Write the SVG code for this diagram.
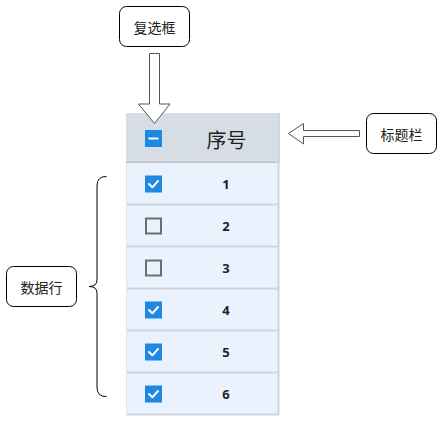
<svg xmlns="http://www.w3.org/2000/svg" width="443" height="424" viewBox="0 0 443 424">
<style>
.callout{fill:#fff;stroke:#000;stroke-width:1}
.ctext{font-family:"Noto Sans CJK SC","Noto Sans",sans-serif;font-size:14px;fill:#222;text-anchor:middle;dominant-baseline:central}
.row{fill:#eaf3fd}
.sep{stroke:#cdd6df;stroke-width:2}
.num{font-family:"Noto Sans","Open Sans",sans-serif;font-weight:bold;font-size:13px;fill:#222;text-anchor:middle;dominant-baseline:central}
.cb-on{fill:#1e88e5}
.cb-off{fill:none;stroke:#6b6f74;stroke-width:2}
.tick{fill:none;stroke:#fff;stroke-width:2;stroke-linecap:round;stroke-linejoin:round}
.arrow{fill:#fff;stroke:#555;stroke-width:1}
</style>
<defs>
<g id="on"><rect class="cb-on" x="0" y="0" width="17" height="17"/><path class="tick" d="M4 8.5 L7.3 11.8 L13 5.5"/></g>
<g id="off"><rect class="cb-off" x="1" y="1" width="15" height="15"/></g>
</defs>
<g id="table">
<rect x="126" y="113" width="154" height="50" fill="#d7dde4"/>
<line x1="126" y1="162.5" x2="280" y2="162.5" stroke="#bfc4c9" stroke-width="2"/>
<rect class="row" x="126" y="163" width="153" height="252"/>
<line class="sep" x1="126" y1="204.5" x2="279" y2="204.5"/>
<line class="sep" x1="126" y1="246.5" x2="279" y2="246.5"/>
<line class="sep" x1="126" y1="288.5" x2="279" y2="288.5"/>
<line class="sep" x1="126" y1="330.5" x2="279" y2="330.5"/>
<line class="sep" x1="126" y1="372.5" x2="279" y2="372.5"/>
<line class="sep" x1="126" y1="414.5" x2="279" y2="414.5"/>
<line class="sep" x1="278.5" y1="113" x2="278.5" y2="415"/>
<line x1="126.5" y1="163" x2="126.5" y2="415" stroke="#dfe6ee" stroke-width="1"/>
</g>
<g id="header">
<rect class="cb-on" x="145" y="130" width="17" height="17"/>
<line x1="148.5" y1="138.5" x2="158.5" y2="138.5" stroke="#fff" stroke-width="2"/>
<text x="226.5" y="139" font-family="'Noto Sans CJK SC',sans-serif" font-size="20" fill="#222" text-anchor="middle" dominant-baseline="central">序号</text>
</g>
<g id="row1"><use href="#on" x="145" y="175.5"/><text class="num" x="226" y="184">1</text></g>
<g id="row2"><use href="#off" x="145" y="217.5"/><text class="num" x="226" y="226">2</text></g>
<g id="row3"><use href="#off" x="145" y="259.5"/><text class="num" x="226" y="268">3</text></g>
<g id="row4"><use href="#on" x="145" y="301.5"/><text class="num" x="226" y="310">4</text></g>
<g id="row5"><use href="#on" x="145" y="343.5"/><text class="num" x="226" y="352">5</text></g>
<g id="row6"><use href="#on" x="145" y="385.5"/><text class="num" x="226" y="394">6</text></g>
<g id="callout-checkbox">
<rect class="callout" x="119.5" y="6.5" width="70" height="40" rx="7"/>
<text class="ctext" x="154.5" y="26.5">复选框</text>
</g>
<g id="callout-title">
<rect class="callout" x="366.5" y="113.5" width="70" height="40" rx="7"/>
<text class="ctext" x="401.5" y="133.5">标题栏</text>
</g>
<g id="callout-rows">
<rect class="callout" x="6.5" y="266.5" width="70" height="40" rx="7"/>
<text class="ctext" x="41.5" y="286.5">数据行</text>
</g>
<g id="connectors">
<path class="arrow" d="M149.5 53.5 H159.5 V104 H170 L154.5 123.5 L138.5 104 H149.5 Z"/>
<path class="arrow" d="M359.5 130.5 V136.5 H303.5 V144 L288.5 133.5 L303.5 123.5 V130.5 Z"/>
<path d="M106.5 176.5 Q97 176 97 186 V280 Q97 286.5 89 286.5 Q97 286.5 97 293 V387 Q97 397 106.5 396.5" fill="none" stroke="#000" stroke-width="1"/>
</g>
</svg>
